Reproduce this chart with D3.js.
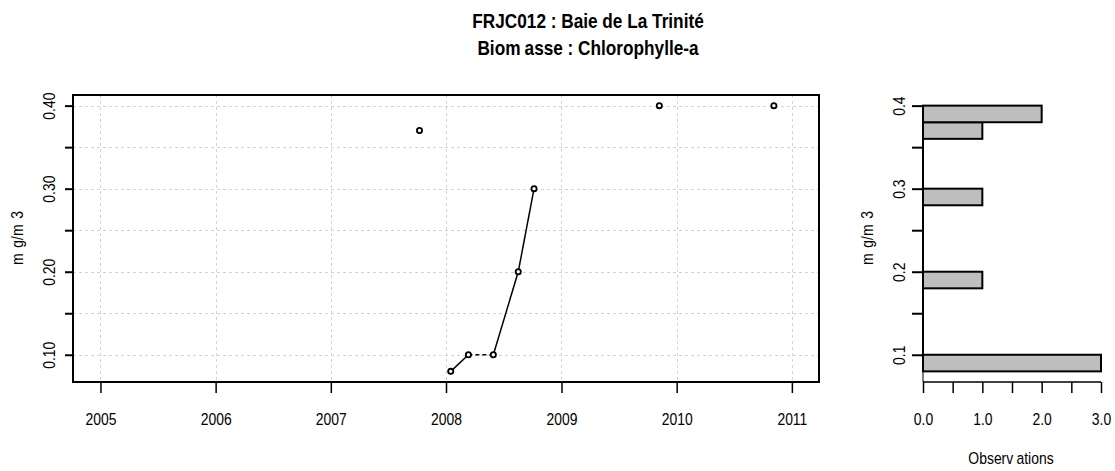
<!DOCTYPE html>
<html><head><meta charset="utf-8">
<script src="https://cdn.jsdelivr.net/npm/d3@7"></script>
<style>body{margin:0;background:#fff} svg{display:block}</style>
</head><body><svg id="c" width="1115" height="471"></svg>
<script>
// ---------- data ----------
const titleLine1 = "FRJC012 : Baie de La Trinité";
const titleLine2 = ["Biom", "asse : Chlorophylle-a"];
const dates  = ["2007-10-09","2008-01-16","2008-03-12","2008-05-30","2008-08-17","2008-10-06","2009-11-07","2010-11-05"];
const values = [0.37, 0.08, 0.10, 0.10, 0.20, 0.30, 0.40, 0.40];
// style of the segment joining point i to point i+1 (null = not joined)
const segStyles = [null, "solid", "dashed", "solid", "solid", null, null];
const yearTicks = [2005, 2006, 2007, 2008, 2009, 2010, 2011];
const yTicks = [0.10, 0.15, 0.20, 0.25, 0.30, 0.35, 0.40];
const yLabelTicks = [0.10, 0.20, 0.30, 0.40];
const histLow  = [0.08, 0.18, 0.28, 0.36, 0.38];
const histHigh = [0.10, 0.20, 0.30, 0.38, 0.40];
const histCounts = [3, 1, 1, 1, 2];
const countTicks = [0, 0.5, 1, 1.5, 2, 2.5, 3];
const countLabelTicks = [0, 1, 2, 3];

// ---------- setup ----------
const svg = d3.select("#c");
const FONT = "'Liberation Sans', Arial, sans-serif";
const FS = 17;
const SX = 0.82; // horizontal condensation (narrow face emulation)
const parse = d3.timeParse("%Y-%m-%d");
const pts = dates.map((d, i) => ({date: parse(d), v: values[i]}));

const P = {l: 73, r: 819, t: 95, b: 382};
const x = d3.scaleTime()
  .domain([parse("2004-10-06"), parse("2011-03-28")])
  .range([P.l, P.r]);
const y = d3.scaleLinear().domain([0.0672, 0.4128]).range([P.b, P.t]);

// title
svg.append("text").attr("transform", `translate(588,28) scale(${SX},1)`).attr("text-anchor", "middle")
  .attr("font-family", FONT).attr("font-weight", "bold").attr("font-size", 21).text(titleLine1);
const t2 = svg.append("text").attr("transform", `translate(588,55) scale(${SX},1)`).attr("text-anchor", "middle")
  .attr("font-family", FONT).attr("font-weight", "bold").attr("font-size", 21);
t2.selectAll("tspan").data(titleLine2).join("tspan").attr("dx", (d, i) => i ? 5 : null).text(d => d);

// grid
const grid = svg.append("g").attr("stroke", "#d3d3d3").attr("stroke-width", 1).attr("stroke-dasharray", "3,3");
grid.selectAll(".h").data(yTicks).join("line")
  .attr("x1", P.l).attr("x2", P.r)
  .attr("y1", d => Math.round(y(d)) + 0.5).attr("y2", d => Math.round(y(d)) + 0.5);
grid.selectAll(".v").data(yearTicks).join("line")
  .attr("y1", P.t).attr("y2", P.b)
  .attr("x1", d => Math.round(x(new Date(d, 0, 1))) + 0.5)
  .attr("x2", d => Math.round(x(new Date(d, 0, 1))) + 0.5);

// axes
const xAxis = d3.axisBottom(x)
  .tickValues(yearTicks.map(yy => new Date(yy, 0, 1)))
  .tickFormat(d3.timeFormat("%Y")).tickSize(11).tickPadding(20);
const gx = svg.append("g").attr("transform", `translate(0,${P.b})`).call(xAxis);
gx.select(".domain").remove();
gx.selectAll("line").attr("stroke", "#000").attr("stroke-width", 1.5);
gx.selectAll("text").attr("font-family", FONT).attr("font-size", FS).attr("fill", "#000")
  .attr("transform", `scale(${SX},1)`);

const yAxis = d3.axisLeft(y).tickValues(yTicks)
  .tickFormat(d => yLabelTicks.some(t => Math.abs(t - d) < 1e-9) ? d3.format(".2f")(d) : "")
  .tickSize(8).tickPadding(0);
const gy = svg.append("g").attr("transform", `translate(${P.l},0)`).call(yAxis);
gy.select(".domain").remove();
gy.selectAll("line").attr("stroke", "#000").attr("stroke-width", 2);
gy.selectAll("text")
  .attr("font-family", FONT).attr("font-size", FS).attr("fill", "#000")
  .attr("text-anchor", "middle").attr("dy", null).attr("x", null)
  .attr("transform", `translate(-18,0) rotate(-90) scale(${SX},1)`).attr("y", 0);

// box
svg.append("rect").attr("x", P.l).attr("y", P.t)
  .attr("width", P.r - P.l).attr("height", P.b - P.t)
  .attr("fill", "none").attr("stroke", "#000").attr("stroke-width", 2);

// y label
function unitLabel(cx, cy) {
  const t = svg.append("text").attr("transform", `translate(${cx},${cy}) rotate(-90) scale(${SX},1)`)
    .attr("text-anchor", "middle").attr("font-family", FONT).attr("font-size", FS);
  t.append("tspan").text("m");
  t.append("tspan").attr("dx", 7).text("g/m");
  t.append("tspan").attr("dx", 7).text("3");
}
unitLabel(23, 238);

// lines
const segs = pts.slice(0, -1).map((p, i) => ({a: p, b: pts[i + 1], s: segStyles[i]})).filter(d => d.s);
svg.append("g").selectAll("line").data(segs).join("line")
  .attr("x1", d => x(d.a.date)).attr("y1", d => y(d.a.v))
  .attr("x2", d => x(d.b.date)).attr("y2", d => y(d.b.v))
  .attr("stroke", "#000").attr("stroke-width", 1.5)
  .attr("stroke-dasharray", d => d.s === "dashed" ? "4,3" : null);

// points
svg.append("g").selectAll("circle").data(pts).join("circle")
  .attr("cx", d => x(d.date)).attr("cy", d => y(d.v)).attr("r", 2.6)
  .attr("fill", "#fff").attr("stroke", "#000").attr("stroke-width", 1.8);

// ---------- histogram ----------
const H = {l: 923, r: 1101};
const hx = d3.scaleLinear().domain([0, 3]).range([H.l, H.r]);

svg.append("line").attr("x1", H.l).attr("x2", H.l).attr("y1", y(0.40)).attr("y2", P.b)
  .attr("stroke", "#000").attr("stroke-width", 1);

svg.append("g").selectAll("rect").data(histCounts).join("rect")
  .attr("x", hx(0)).attr("y", (d, i) => y(histHigh[i]))
  .attr("width", d => hx(d) - hx(0))
  .attr("height", (d, i) => y(histLow[i]) - y(histHigh[i]))
  .attr("fill", "#bebebe").attr("stroke", "#000").attr("stroke-width", 2);

const hyAxis = d3.axisLeft(y).tickValues(yTicks)
  .tickFormat(d => yLabelTicks.some(t => Math.abs(t - d) < 1e-9) ? d3.format(".1f")(d) : "")
  .tickSize(11).tickPadding(0);
const ghy = svg.append("g").attr("transform", `translate(${H.l},0)`).call(hyAxis);
ghy.select(".domain").attr("d", `M0,${y(0.40)}V${y(0.10)}`).attr("stroke", "#000").attr("stroke-width", 2);
ghy.selectAll("line").attr("stroke", "#000").attr("stroke-width", 2);
ghy.selectAll("text")
  .attr("font-family", FONT).attr("font-size", FS).attr("fill", "#000")
  .attr("text-anchor", "middle").attr("dy", null).attr("x", null)
  .attr("transform", `translate(-18,0) rotate(-90) scale(${SX},1)`).attr("y", 0);

const hxAxis = d3.axisBottom(hx).tickValues(countTicks)
  .tickFormat(d => countLabelTicks.includes(d) ? d3.format(".1f")(d) : "")
  .tickSize(11).tickPadding(20);
const ghx = svg.append("g").attr("transform", `translate(0,${P.b})`).call(hxAxis);
ghx.select(".domain").attr("d", `M${hx(0)},0H${hx(3)}`).attr("stroke", "#000").attr("stroke-width", 1.5);
ghx.selectAll("line").attr("stroke", "#000").attr("stroke-width", 1.5);
ghx.selectAll("text").attr("font-family", FONT).attr("font-size", FS).attr("fill", "#000")
  .attr("transform", `scale(${SX},1)`);

unitLabel(873, 238);

const ob = svg.append("text").attr("transform", `translate(1011,464) scale(${SX},1)`).attr("text-anchor", "middle")
  .attr("font-family", FONT).attr("font-size", FS);
ob.append("tspan").text("Observ");
ob.append("tspan").attr("dx", 4).text("ations");
</script></body></html>
